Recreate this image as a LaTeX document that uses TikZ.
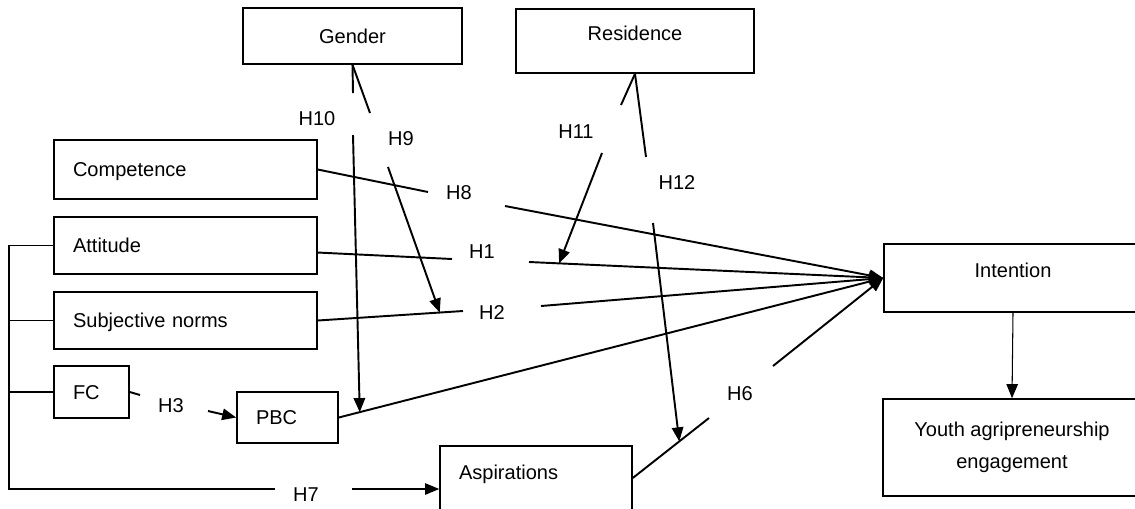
\documentclass[tikz,border=0pt]{standalone}
\usepackage{fontspec}
\setmainfont{Liberation Sans}
\usetikzlibrary{positioning}
\usetikzlibrary{arrows.meta}

\tikzset{
 box/.style={draw,line width=0.9pt,inner sep=0pt,text height=8.2pt,text depth=0pt},
 lbox/.style={box,align=left,inner xsep=0.38cm,text width=#1},
 hyp/.style={inner sep=0pt,text height=8.2pt,text depth=0pt},
 conn/.style={line width=1.1pt},
 thinline/.style={line width=0.6pt}
}

\begin{document}
\begin{tikzpicture}[x=0.02cm,y=-0.02cm,>={Triangle[length=8pt,width=6.5pt]},
 every node/.style={font=\fontsize{11.4pt}{18.2pt}\selectfont}]
 \useasboundingbox (0,0) rectangle (1135,508);
 \clip (0,0) rectangle (1135,508);
 % boxes
 \node[box,minimum width=4.38cm,minimum height=1.12cm] (gen) at (352.5,36) {Gender};
 \node[box,minimum width=4.76cm,minimum height=1.28cm,text depth=9.1pt] (res) at (635,41) {Residence};
 \node[lbox=4.5cm,minimum height=1.18cm] (comp) at (185.5,169.5) {Competence};
 \node[lbox=4.5cm,minimum height=1.14cm] (att) at (185.5,245.5) {Attitude};
 \node[lbox=4.5cm,minimum height=1.14cm] (sn) at (185.5,320.5) {Subjective norms};
 \node[lbox=0.74cm,minimum height=1.04cm] (fc) at (91.5,392) {FC};
 \node[lbox=1.26cm,minimum height=1.02cm] (pbc) at (287.5,417.5) {PBC};
 \node[lbox=3.08cm,minimum height=1.28cm,text depth=6.8pt] (asp) at (536,478) {Aspirations};
 \node[box,minimum width=5.16cm,minimum height=1.36cm,text depth=9.1pt] (int) at (1013,278) {Intention};
 \node[draw,line width=0.9pt,align=center,minimum width=5.16cm,minimum height=1.94cm] (youth) at (1012,447.5) {Youth agripreneurship\\engagement};
 % hypothesis labels
 \node[hyp] (h1) at (482,251) {H1};
 \node[hyp] (h2) at (492,312) {H2};
 \node[hyp] (h3) at (171,405) {H3};
 \node[hyp] (h6) at (740,393) {H6};
 \node[hyp] (h7) at (306,494) {H7};
 \node[hyp] (h8) at (459,192) {H8};
 \node[hyp] (h9) at (401,138) {H9};
 \node[hyp] (h10) at (317,118) {H10};
 \node[hyp] (h11) at (576,131) {H11};
 \node[hyp] (h12) at (677,182) {H12};
 % line ends beside the labels
 \coordinate (h1a) at (452,259); \coordinate (h1b) at (529,262);
 \coordinate (h2a) at (463,311); \coordinate (h2b) at (541,306);
 \coordinate (h3a) at (140,395); \coordinate (h3b) at (208,411);
 \coordinate (h6a) at (709,418); \coordinate (h6b) at (773,366);
 \coordinate (h7a) at (275,489); \coordinate (h7b) at (352,489);
 \coordinate (h8a) at (428,192); \coordinate (h8b) at (505,206);
 \coordinate (h9a) at (370,113); \coordinate (h9b) at (388,167);
 \coordinate (h10a) at (353,93); \coordinate (h10b) at (353,135);
 \coordinate (h11a) at (621,105); \coordinate (h11b) at (602,153);
 \coordinate (h12a) at (646,157); \coordinate (h12b) at (653,223);
 \coordinate (brk) at (9,489);
 % direct paths
 \draw[conn] (comp.east) -- (h8a);
 \draw[conn,->] (h8b) -- (int.west);
 \draw[conn] ([yshift=-4pt]att.east) -- (h1a);
 \draw[conn,->] (h1b) -- coordinate[pos=0.085] (t11) (int.west);
 \draw[conn] (sn.east) -- coordinate[pos=0.84] (t9) (h2a);
 \draw[conn,->] (h2b) -- (int.west);
 \draw[conn,->] (pbc.east) -- coordinate[pos=0.0385] (t10) (int.west);
 \draw[conn] (fc.east) -- (h3a);
 \draw[conn,->] (h3b) -- (pbc.west);
 \draw[conn] (asp.east) -- coordinate[pos=0.61] (t12) (h6a);
 \draw[conn,->] (h6b) -- (int.west);
 \draw[thinline,->] (int.south) -- (youth.north);
 % moderators
 \draw[conn] (gen.south) -- (h10a);
 \draw[conn,->] (h10b) -- (t10);
 \draw[conn] (gen.south) -- (h9a);
 \draw[conn,->] (h9b) -- (t9);
 \draw[conn] (res.south) -- (h11a);
 \draw[conn,->] (h11b) -- (t11);
 \draw[conn] (res.south) -- (h12a);
 \draw[conn,->] (h12b) -- (t12);
 % bracket to aspirations
 \draw[thinline] (att.west) -| (brk) -- (h7a);
 \draw[thinline] (sn.west) -- (sn.west -| brk);
 \draw[thinline] (fc.west) -- (fc.west -| brk);
 \draw[thinline,->] (h7b) -- (h7b -| asp.west);
\end{tikzpicture}
\end{document}
